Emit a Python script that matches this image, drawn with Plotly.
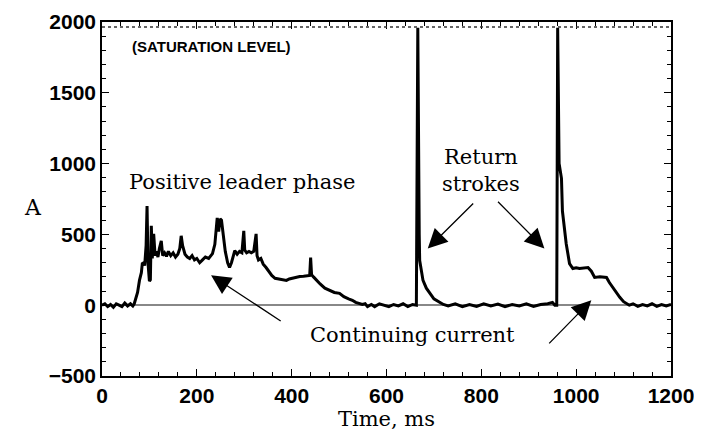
import plotly.graph_objects as go

# lightning current record (ms, A)
time_ms = [
    0, 6, 12, 18, 24, 30, 36, 42, 48, 54, 60, 65, 68, 72, 75, 79, 83, 85, 88, 90,
    93, 95, 97, 100, 102, 104, 106, 109, 112, 115, 118, 121, 125, 128, 132, 136,
    140, 145, 150, 155, 160, 164, 167, 170, 175, 180, 185, 190, 195, 200, 206,
    212, 218, 225, 233, 238, 241, 243, 246, 249, 252, 256, 260, 265, 269, 273,
    277, 280, 285, 290, 295, 299, 301, 305, 310, 315, 320, 325, 327, 330, 335,
    340, 346, 352, 358, 365, 372, 380, 389, 395, 400, 410, 417, 425, 432, 438,
    440, 442, 446, 452, 460, 470, 480, 490, 501, 510, 520, 528, 535, 540, 549,
    555, 560, 568, 575, 585, 595, 605, 615, 625, 635, 645, 655, 663,
    666, 667.5, 669, 670, 677, 684, 691, 700, 712, 720,
    730, 745, 760, 775, 790, 805, 820, 835, 850, 865, 880, 895, 910, 925, 940,
    950, 955, 959,
    961, 962, 964, 969, 971, 979, 986, 993, 1000, 1007, 1015, 1025, 1032, 1039,
    1050, 1064, 1070, 1077, 1085, 1092, 1100, 1106, 1112, 1120, 1130, 1140,
    1150, 1160, 1170, 1180, 1190, 1200,
]
current_a = [
    0, 10, -10, 5, -15, 10, 0, -10, 15, -5, 10, -5, 10, 60, 90, 175, 230, 294, 300, 280,
    420, 700, 300, 170, 180, 560, 330, 504, 350, 380, 340, 400, 455, 350, 370, 345,
    380, 350, 370, 340, 360, 400, 490, 420, 360, 340, 330, 350, 320, 330, 300,
    320, 340, 330, 364, 430, 560, 616, 520, 610, 600, 480, 380, 300, 266, 300,
    350, 385, 360, 380, 370, 525, 390, 370, 380, 370, 380, 504, 350, 320, 330,
    290, 266, 240, 210, 190, 185, 180, 175, 185, 190, 200, 203, 205, 210, 210,
    336, 215, 200, 175, 150, 120, 105, 90, 84, 60, 45, 35, 20, 15, 5,
    10, -10, 5, -10, 10, 0, -10, 5, -5, 10, -10, 5, 0,
    1960, 920, 500, 315, 175, 120, 84, 45, 21, 5,
    -5, 10, -10, 5, -8, 10, -5, 8, -10, 5, -5, 10, -8, 5, 10,
    20, 0, 0,
    1960, 1500, 1000, 896, 665, 434, 294, 259, 265, 259, 262, 266, 240, 196,
    200, 196, 160, 126, 90, 56, 25, 14, 0, 10, -8, 5,
    -5, 10, -8, 5, -5, 5,
]
saturation_a = 1965

x_ticks = [0, 200, 400, 600, 800, 1000, 1200]
y_ticks = [-500, 0, 500, 1000, 1500, 2000]

serif = "DejaVu Serif"

fig = go.Figure()

fig.add_trace(
    go.Scatter(
        x=time_ms,
        y=current_a,
        mode="lines",
        line=dict(color="black", width=3),
        showlegend=False,
    )
)

fig.add_hline(y=saturation_a, line=dict(color="#333333", width=1.5, dash="dot"))

fig.add_annotation(
    x=58, y=1830, xref="x", yref="y", xanchor="left", showarrow=False,
    text="(SATURATION LEVEL)",
    font=dict(family="Liberation Sans", size=15, color="black", weight="bold"),
)
fig.add_annotation(
    x=295, y=870, xref="x", yref="y", showarrow=False,
    text="Positive leader phase",
    font=dict(family=serif, size=21, color="black"),
)
fig.add_annotation(
    x=800, y=950, xref="x", yref="y", showarrow=False,
    text="Return<br>strokes",
    font=dict(family=serif, size=21, color="black"),
)
fig.add_annotation(
    x=654, y=-212, xref="x", yref="y", showarrow=False,
    text="Continuing current",
    font=dict(family=serif, size=21, color="black"),
)
fig.add_annotation(
    x=-0.141, y=690, xref="paper", yref="y", showarrow=False,
    text="A",
    font=dict(family=serif, size=22, color="black"),
)

# arrows: (tip x, tip y, tail x, tail y)
arrows = [
    (230, 212, 380, -118),
    (687, 400, 786, 729),
    (933, 400, 832, 741),
    (1032, 35, 940, -280),
]
for tx, ty, sx, sy in arrows:
    fig.add_annotation(
        x=tx, y=ty, ax=sx, ay=sy, xref="x", yref="y", axref="x", ayref="y",
        text="", showarrow=True, arrowhead=2, arrowsize=3, arrowwidth=1.3,
        arrowcolor="black",
    )

axis_common = dict(
    showline=True, linecolor="black", linewidth=1.5, mirror="allticks",
    ticks="inside", ticklen=7, tickwidth=1.2, tickcolor="black",
    showgrid=False, automargin=False,
    tickfont=dict(family="Liberation Sans", size=21, color="black", weight="bold"),
)

fig.update_xaxes(
    range=[0, 1200], tickvals=x_ticks,
    minor=dict(dtick=40, ticks="inside", ticklen=4, tickcolor="black"),
    zeroline=False,
    title=dict(text="Time, ms", font=dict(family=serif, size=21, color="black"), standoff=2),
    **axis_common,
)
fig.update_yaxes(
    range=[-500, 2000], tickvals=y_ticks,
    minor=dict(dtick=100, ticks="inside", ticklen=4, tickcolor="black"),
    zeroline=True, zerolinecolor="#888888", zerolinewidth=1.5,
    **axis_common,
)

# the page body adds an 8 px margin, so the figure is sized to fit inside it
fig.update_layout(
    width=694, height=425,
    margin=dict(l=94, r=31, t=14, b=57),
    plot_bgcolor="white", paper_bgcolor="white",
)

fig.write_html("out.html")
